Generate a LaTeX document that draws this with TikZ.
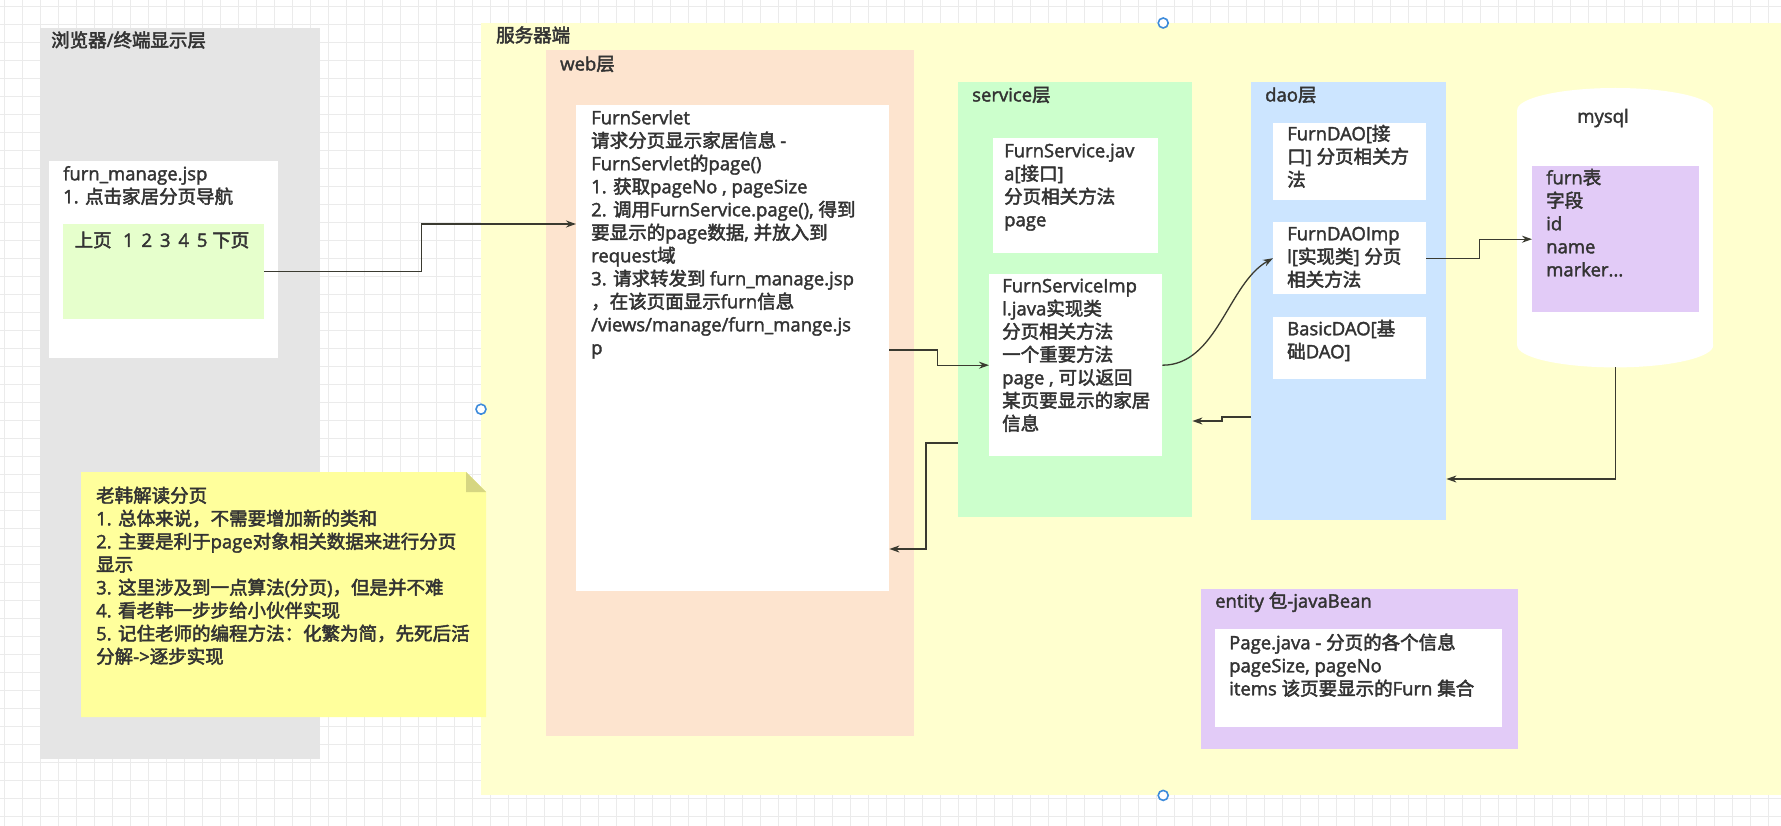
\documentclass[tikz,border=0pt]{standalone}
\usepackage{fontspec}
\setmainfont{Open Sans}[FakeBold=2]
\newfontfamily\latinfont{Open Sans}[FakeBold=2]
\newfontfamily\cjkfont{Noto Sans CJK SC}[FakeBold=2.5]
% switch fonts between CJK and Latin characters
\XeTeXinterchartokenstate=1
\newXeTeXintercharclass\cjkclass
\count255="2E80
\loop \XeTeXcharclass\count255=\cjkclass \ifnum\count255<"9FFF \advance\count255 by 1 \repeat
\count255="FF00
\loop \XeTeXcharclass\count255=\cjkclass \ifnum\count255<"FFEF \advance\count255 by 1 \repeat
\XeTeXinterchartoks 0 \cjkclass = {\cjkfont}
\XeTeXinterchartoks 4095 \cjkclass = {\cjkfont}
\XeTeXinterchartoks \cjkclass 0 = {\latinfont}
\XeTeXinterchartoks 4095 0 = {\latinfont}
\usetikzlibrary{positioning, arrows.meta, calc}
\definecolor{inkgray}{HTML}{333333}
\definecolor{linegray}{HTML}{3A3A30}
\definecolor{gridgray}{HTML}{EBEBEB}
\definecolor{browsergray}{HTML}{E5E5E5}
\definecolor{serveryellow}{HTML}{FFFFCF}
\definecolor{webpeach}{HTML}{FDE4CF}
\definecolor{svcgreen}{HTML}{CCFFCC}
\definecolor{daoblue}{HTML}{CCE5FF}
\definecolor{tblpurple}{HTML}{E2CBF7}
\definecolor{pagergreen}{HTML}{E6FFCC}
\definecolor{notefill}{HTML}{FFFF9C}
\definecolor{notefold}{HTML}{D6D682}
\definecolor{handleblue}{HTML}{3D8BDB}
\tikzset{
	layer/.style={inner sep=0pt, anchor=north west, draw=none}
}
\tikzset{
	whitebox/.style={layer, fill=white}
}
\tikzset{
	lbl/.style={inner sep=0pt, anchor=north west, align=left, text=inkgray, font=\fontsize{18.5}{23}\selectfont},
	flow/.style={draw=linegray, line width=1.3pt, -{Stealth[length=10pt,width=7pt]}},
	gridline/.style={draw=gridgray, line width=0.7pt},
	handle/.style={draw=handleblue, line width=1.6pt, fill=white}
}

\begin{document}
\begin{tikzpicture}[x=1pt, y=-1pt]
  \useasboundingbox (0,0) rectangle (1781,826);
  \fill[white] (0,0) rectangle (1781,826);
  \foreach \gx in {4,22,...,1780} \draw[gridline] (\gx,0) -- (\gx,826);
  \foreach \gy in {6,24,...,826} \draw[gridline] (0,\gy) -- (1781,\gy);

  % browser side
  \node[layer, fill=browsergray, minimum width=280pt, minimum height=731pt] (browser) at (40,28) {};
  \node[lbl, anchor=west] (browsertitle) at (51,40) {浏览器/终端显示层};
  \node[whitebox, minimum width=229pt, minimum height=197pt] (jsp) at (49,161) {};
  \node[lbl] (jsptxt) at (63,164) {\strut furn\_manage.jsp\\1. 点击家居分页导航};
  \node[layer, fill=pagergreen, minimum width=201pt, minimum height=95pt] (pager) at (63,224) {};
  \node[lbl, anchor=center] (pagertxt) at (162,240) {上页\ \ \,1\,\ 2\,\ 3\,\ 4\,\ 5 下页};

  % server side
  \node[layer, fill=serveryellow, minimum width=1364pt, minimum height=772pt] (server) at (481,23) {};
  \node[lbl, anchor=west] (servertitle) at (496,35) {服务器端};

  % note
  \fill[notefill] (81,472) -- (466,472) -- (486,492) -- (486,717) -- (81,717) -- cycle;
  \fill[notefold] (466,472) -- (466,492) -- (486,492) -- cycle;
  \node[lbl] (notetxt) at (96,486) {\strut 老韩解读分页\\1. 总体来说，不需要增加新的类和\\2. 主要是利于page对象相关数据来进行分页\\显示\\3. 这里涉及到一点算法(分页)，但是并不难\\4. 看老韩一步步给小伙伴实现\\5. 记住老师的编程方法：化繁为简，先死后活\\分解->逐步实现};

  % web
  \node[layer, fill=webpeach, minimum width=368pt, minimum height=686pt] (web) at (546,50) {};
  \node[lbl, anchor=west] (webtitle) at (560,64) {web层};
  \node[whitebox, minimum width=313pt, minimum height=486pt] (servlet) at (576,105) {};
  \node[lbl] (servlettxt) at (591,108) {\strut FurnServlet\\请求分页显示家居信息 -\\FurnServlet的page()\\1. 获取pageNo , pageSize\\2. 调用FurnService.page(), 得到\\要显示的page数据, 并放入到\\request域\\3. 请求转发到 furn\_manage.jsp\\，在该页面显示furn信息\\/views/manage/furn\_mange.js\\p};

  % service
  \node[layer, fill=svcgreen, minimum width=234pt, minimum height=435pt] (svclayer) at (958,82) {};
  \node[lbl, anchor=west] (svctitle) at (972,95) {service层};
  \node[whitebox, minimum width=165pt, minimum height=115pt] (svciface) at (993,138) {};
  \node[lbl] (svcifacetxt) at (1004,141) {\strut FurnService.jav\\a[接口]\\分页相关方法\\page};
  \node[whitebox, minimum width=173pt, minimum height=182pt] (svcimpl) at (989,274) {};
  \node[lbl] (svcimpltxt) at (1002,276) {\strut FurnServiceImp\\l.java实现类\\分页相关方法\\一个重要方法\\page , 可以返回\\某页要显示的家居\\信息};

  % dao
  \node[layer, fill=daoblue, minimum width=195pt, minimum height=438pt] (daolayer) at (1251,82) {};
  \node[lbl, anchor=west] (daotitle) at (1265,95) {dao层};
  \node[whitebox, minimum width=153pt, minimum height=77pt] (furndao) at (1273,123) {};
  \node[lbl] (furndaotxt) at (1287,124) {\strut FurnDAO[接\\口] 分页相关方\\法};
  \node[whitebox, minimum width=153pt, minimum height=72pt] (daoimpl) at (1273,222) {};
  \node[lbl] (daoimpltxt) at (1287,224) {\strut FurnDAOImp\\l[实现类] 分页\\相关方法};
  \node[whitebox, minimum width=153pt, minimum height=62pt] (basicdao) at (1273,317) {};
  \node[lbl] (basicdaotxt) at (1287,319) {\strut BasicDAO[基\\础DAO]};

  % mysql
  \node[layer, minimum width=196pt, minimum height=279pt] (mysql) at (1517,88) {};
  \fill[white] ([yshift=-22pt]mysql.north west) rectangle ([yshift=22pt]mysql.south east);
  \fill[white] ([yshift=-22pt]mysql.north) ellipse [x radius=98pt, y radius=22pt];
  \fill[white] ([yshift=22pt]mysql.south) ellipse [x radius=98pt, y radius=22pt];
  \node[lbl, anchor=center] (mysqltxt) at (1603,118) {mysql};
  \node[layer, fill=tblpurple, minimum width=167pt, minimum height=146pt] (furntbl) at (1532,166) {};
  \node[lbl] (furntbltxt) at (1546,168) {\strut furn表\\字段\\id\\name\\marker...};

  % entity
  \node[layer, fill=tblpurple, minimum width=317pt, minimum height=160pt] (entity) at (1201,589) {};
  \node[lbl, anchor=west] (entitytitle) at (1215,602) {entity 包-javaBean};
  \node[whitebox, minimum width=287pt, minimum height=98pt] (entitybody) at (1215,629) {};
  \node[lbl] (entitytxt) at (1229,633) {\strut Page.java - 分页的各个信息\\pageSize, pageNo\\items 该页要显示的Furn 集合};

  % connectors
  \draw[flow] (pager.east) -- ++(157,0) |- ([yshift=-119pt]servlet.north west);
  \draw[flow] ([yshift=-245pt]servlet.north east) -- ++(48,0) |- (svcimpl.west);
  \draw[flow] (svcimpl.east) .. controls +(55,0) and +(-45,25) .. (daoimpl.west);
  \draw[flow] (daoimpl.east) -- ++(53,0) |- (furntbl.west);
  \draw[flow] (mysql.south) |- ([yshift=-397pt]daolayer.north east);
  \draw[flow] ([yshift=-335pt]daolayer.north west) -- ++(-29,0) |- ([yshift=-339pt]svclayer.north east);
  \draw[flow] ([yshift=-361pt]svclayer.north west) -- ++(-32,0) |- ([yshift=-444pt]servlet.north east);

  % selection handles
  \foreach \hp in {north, west, south} \draw[handle] (server.\hp) circle[radius=5pt];
\end{tikzpicture}
\end{document}
